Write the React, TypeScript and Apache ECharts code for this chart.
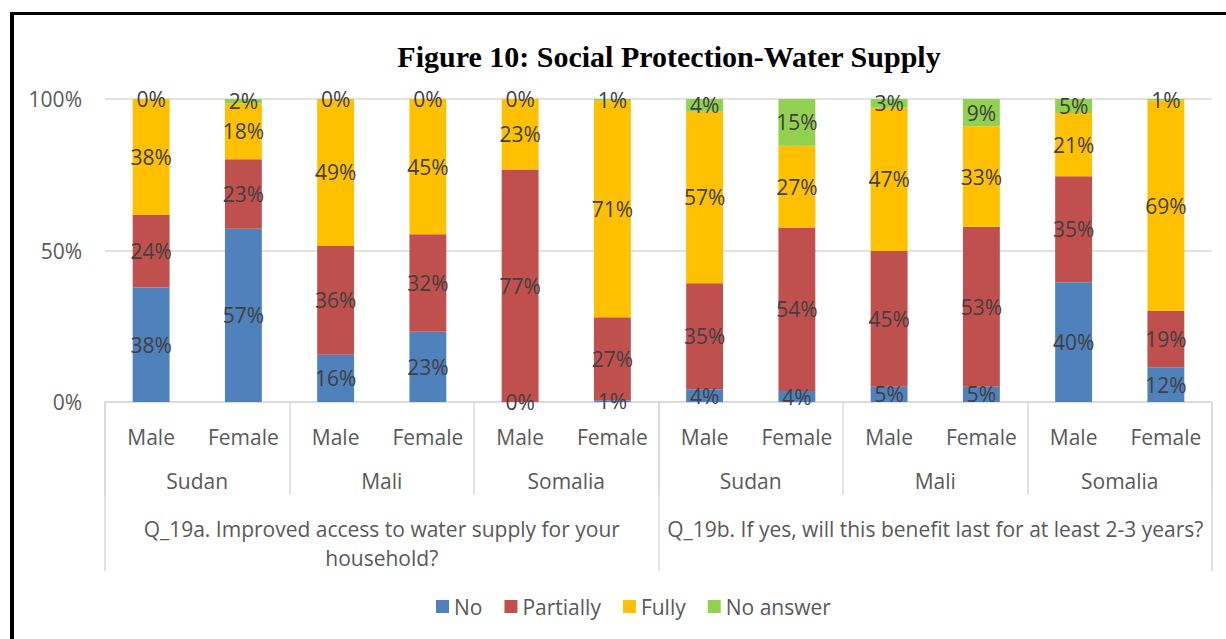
import React, { useEffect, useRef } from "react";
import * as echarts from "echarts";

// Respondent groups along the bottom, three levels deep
const genders = ["Male", "Female", "Male", "Female", "Male", "Female", "Male", "Female", "Male", "Female", "Male", "Female"];
const countries = ["Sudan", "Mali", "Somalia", "Sudan", "Mali", "Somalia"];
const questions = [
  "Q_19a. Improved access to water supply for your\nhousehold?",
  "Q_19b. If yes, will this benefit last for at least 2-3 years?",
];

// Share of answers per group (percent)
const noValues = [37.8, 57.2, 15.6, 23.2, 0, 0.6, 4.2, 3.6, 5.0, 5.0, 39.5, 11.5];
const partiallyValues = [23.9, 22.9, 35.9, 32.2, 76.7, 27.4, 35.0, 54.0, 44.8, 52.8, 35.0, 18.6];
const fullyValues = [38.3, 18.4, 48.5, 44.6, 23.3, 71.4, 56.6, 27.0, 47.3, 33.2, 20.9, 69.4];
const noAnswerValues = [0, 1.5, 0, 0, 0, 0.6, 4.2, 15.4, 2.9, 9.0, 4.6, 0.5];

const seriesNames = ["No", "Partially", "Fully", "No answer"];
const seriesColors = ["#4F81BD", "#C0504D", "#FFC000", "#92D050"];

const yTicks = [0, 50, 100];

const FONT = "'Open Sans', 'Noto Sans', sans-serif";
const FONT_SIZE = 21;
const AXIS_GREY = "#D9D9D9";
const TEXT_GREY = "#595959";

export default function App() {
  const ref = useRef<HTMLDivElement>(null);

  useEffect(() => {
    document.body.style.margin = "0";
    if (!ref.current) return;
    const chart = echarts.init(ref.current, undefined, { renderer: "svg" });

    const seriesData = [noValues, partiallyValues, fullyValues, noAnswerValues];

    chart.setOption({
      animation: false,
      backgroundColor: "#ffffff",
      textStyle: { fontFamily: FONT },
      grid: { left: 105, right: 14, top: 99, bottom: 237, containLabel: false },
      graphic: [
        {
          type: "line",
          shape: { x1: 12, y1: 12, x2: 12, y2: 639 },
          style: { stroke: "#000000", lineWidth: 4 },
          z: 10,
        },
        {
          type: "line",
          shape: { x1: 10, y1: 13.5, x2: 1226, y2: 13.5 },
          style: { stroke: "#000000", lineWidth: 3 },
          z: 10,
        },
        {
          type: "text",
          x: 669,
          y: 56,
          style: {
            text: "Figure 10: Social Protection-Water Supply",
            align: "center",
            verticalAlign: "middle",
            fontFamily: "'Liberation Serif', 'Times New Roman', serif",
            fontWeight: "bold",
            fontSize: 30,
            fill: "#000000",
          },
        },
      ],
      legend: {
        data: seriesNames,
        left: 431,
        top: 591,
        icon: "rect",
        itemWidth: 13,
        itemHeight: 13,
        itemGap: 22,
        textStyle: { fontSize: FONT_SIZE, color: TEXT_GREY, fontFamily: FONT },
      },
      xAxis: [
        {
          type: "category",
          data: genders,
          position: "bottom",
          axisLine: { show: true, lineStyle: { color: AXIS_GREY, width: 1.5 } },
          axisTick: { show: false },
          axisLabel: { interval: 0, margin: 24, fontSize: FONT_SIZE, color: TEXT_GREY, fontFamily: FONT },
        },
        {
          type: "category",
          data: countries,
          position: "bottom",
          axisLine: { show: false },
          axisTick: { show: true, interval: 0, length: 93, lineStyle: { color: AXIS_GREY, width: 1.5 } },
          axisLabel: { interval: 0, margin: 68, fontSize: FONT_SIZE, color: TEXT_GREY, fontFamily: FONT },
        },
        {
          type: "category",
          data: questions,
          position: "bottom",
          axisLine: { show: false },
          axisTick: { show: true, interval: 0, length: 169, lineStyle: { color: AXIS_GREY, width: 1.5 } },
          axisLabel: {
            interval: 0,
            margin: 112,
            fontSize: FONT_SIZE,
            lineHeight: 29,
            color: TEXT_GREY,
            fontFamily: FONT,
            align: "center",
          },
        },
      ],
      yAxis: {
        type: "value",
        min: yTicks[0],
        max: yTicks[yTicks.length - 1],
        interval: yTicks[1] - yTicks[0],
        axisLine: { show: false },
        axisTick: { show: false },
        splitLine: { show: true, lineStyle: { color: AXIS_GREY, width: 1.5 } },
        axisLabel: {
          margin: 23,
          fontSize: FONT_SIZE,
          color: TEXT_GREY,
          fontFamily: FONT,
          formatter: (v: number) => `${v}%`,
        },
      },
      series: seriesNames.map((name, i) => ({
        name,
        type: "bar",
        stack: "total",
        xAxisIndex: 0,
        barWidth: "40%",
        data: seriesData[i],
        itemStyle: { color: seriesColors[i] },
        label: {
          show: true,
          position: "inside",
          fontSize: FONT_SIZE,
          color: "#404040",
          fontFamily: FONT,
          formatter: (p: any) => `${Math.round(p.value)}%`,
        },
      })),
    });

    return () => {
      chart.dispose();
    };
  }, []);

  return <div ref={ref} style={{ width: 1226, height: 639 }} />;
}
